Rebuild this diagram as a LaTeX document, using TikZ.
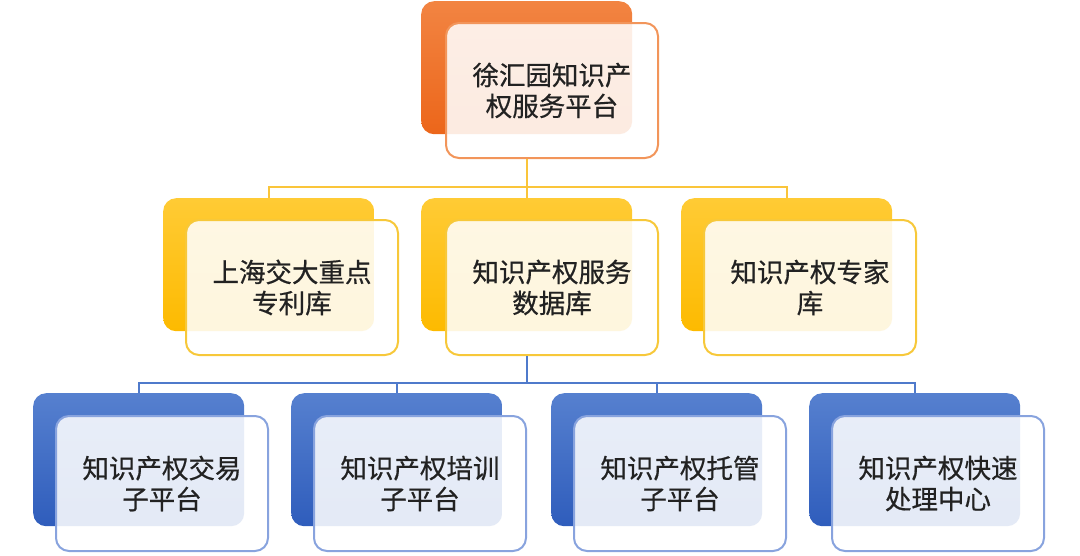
\documentclass[tikz,border=0pt]{standalone}
\usepackage{fontspec}
\newfontfamily\cjk[FakeBold=0.6]{Noto Sans CJK SC}
\usetikzlibrary{calc}
\definecolor{orD}{HTML}{EC661A}
\definecolor{orL}{HTML}{F28442}
\definecolor{orB}{HTML}{F2955A}
\definecolor{yeD}{HTML}{FDBA00}
\definecolor{yeL}{HTML}{FFCB35}
\definecolor{yeB}{HTML}{F7C83A}
\definecolor{blD}{HTML}{2F5DBC}
\definecolor{blL}{HTML}{5680CF}
\definecolor{blB}{HTML}{88A3DE}
\definecolor{ylin}{HTML}{FAC53A}
\definecolor{blin}{HTML}{4F7ACB}
\definecolor{txt}{HTML}{222222}
\begin{document}
\begin{tikzpicture}[x=1pt,y=-1pt,
  backbox/.style={anchor=north west, inner sep=0pt, rounded corners=13pt,
    minimum width=211pt, minimum height=133pt, shading angle=15},
  frontbox/.style={anchor=north west, inner sep=0pt, rounded corners=13pt,
    minimum width=212pt, minimum height=135pt, line width=2pt,
    fill=white, fill opacity=0.87, text opacity=1, draw opacity=1,
    align=center, text=txt, font=\cjk\fontsize{26.5}{31}\selectfont},
  orback/.style={backbox, top color=orL, bottom color=orD},
  yeback/.style={backbox, top color=yeL, bottom color=yeD},
  blback/.style={backbox, top color=blL, bottom color=blD},
  yline/.style={draw=ylin, line width=2pt},
  bline/.style={draw=blin, line width=2pt}]
\useasboundingbox (0,0) rectangle (1080,555);

% top
\node[orback] (tB) at (421,1) {};
\node[frontbox, draw=orB] (t) at (445,22) {徐汇园知识产\\权服务平台};

% middle row
\node[yeback] (m1B) at (163,198) {};
\node[yeback] (m2B) at (421,198) {};
\node[yeback] (m3B) at (681,198) {};

% bottom row
\node[blback] (b1B) at (33,393) {};
\node[blback] (b2B) at (291,393) {};
\node[blback] (b3B) at (551,393) {};
\node[blback] (b4B) at (809,393) {};

% connectors level 1
\draw[yline] (tB.south |- t.south) -- ++(0,28) coordinate (j1);
\draw[yline] (j1) -| (m1B.north);
\draw[yline] (j1) -| (m3B.north);
\draw[yline] (j1) -- (m2B.north);

\node[frontbox, draw=yeB] (m1) at (185,219) {上海交大重点\\专利库};
\node[frontbox, draw=yeB] (m2) at (445,219) {知识产权服务\\数据库};
\node[frontbox, draw=yeB] (m3) at (703,219) {知识产权专家\\库};

% connectors level 2
\draw[bline] (m2B.south |- m2.south) -- ++(0,27) coordinate (j2);
\draw[bline] (j2) -| (b1B.north);
\draw[bline] (j2) -| (b2B.north);
\draw[bline] (j2) -| (b3B.north);
\draw[bline] (j2) -| (b4B.north);

\node[frontbox, draw=blB] (b1) at (55,415) {知识产权交易\\子平台};
\node[frontbox, draw=blB] (b2) at (313,415) {知识产权培训\\子平台};
\node[frontbox, draw=blB] (b3) at (573,415) {知识产权托管\\子平台};
\node[frontbox, draw=blB] (b4) at (831,415) {知识产权快速\\处理中心};
\end{tikzpicture}
\end{document}
